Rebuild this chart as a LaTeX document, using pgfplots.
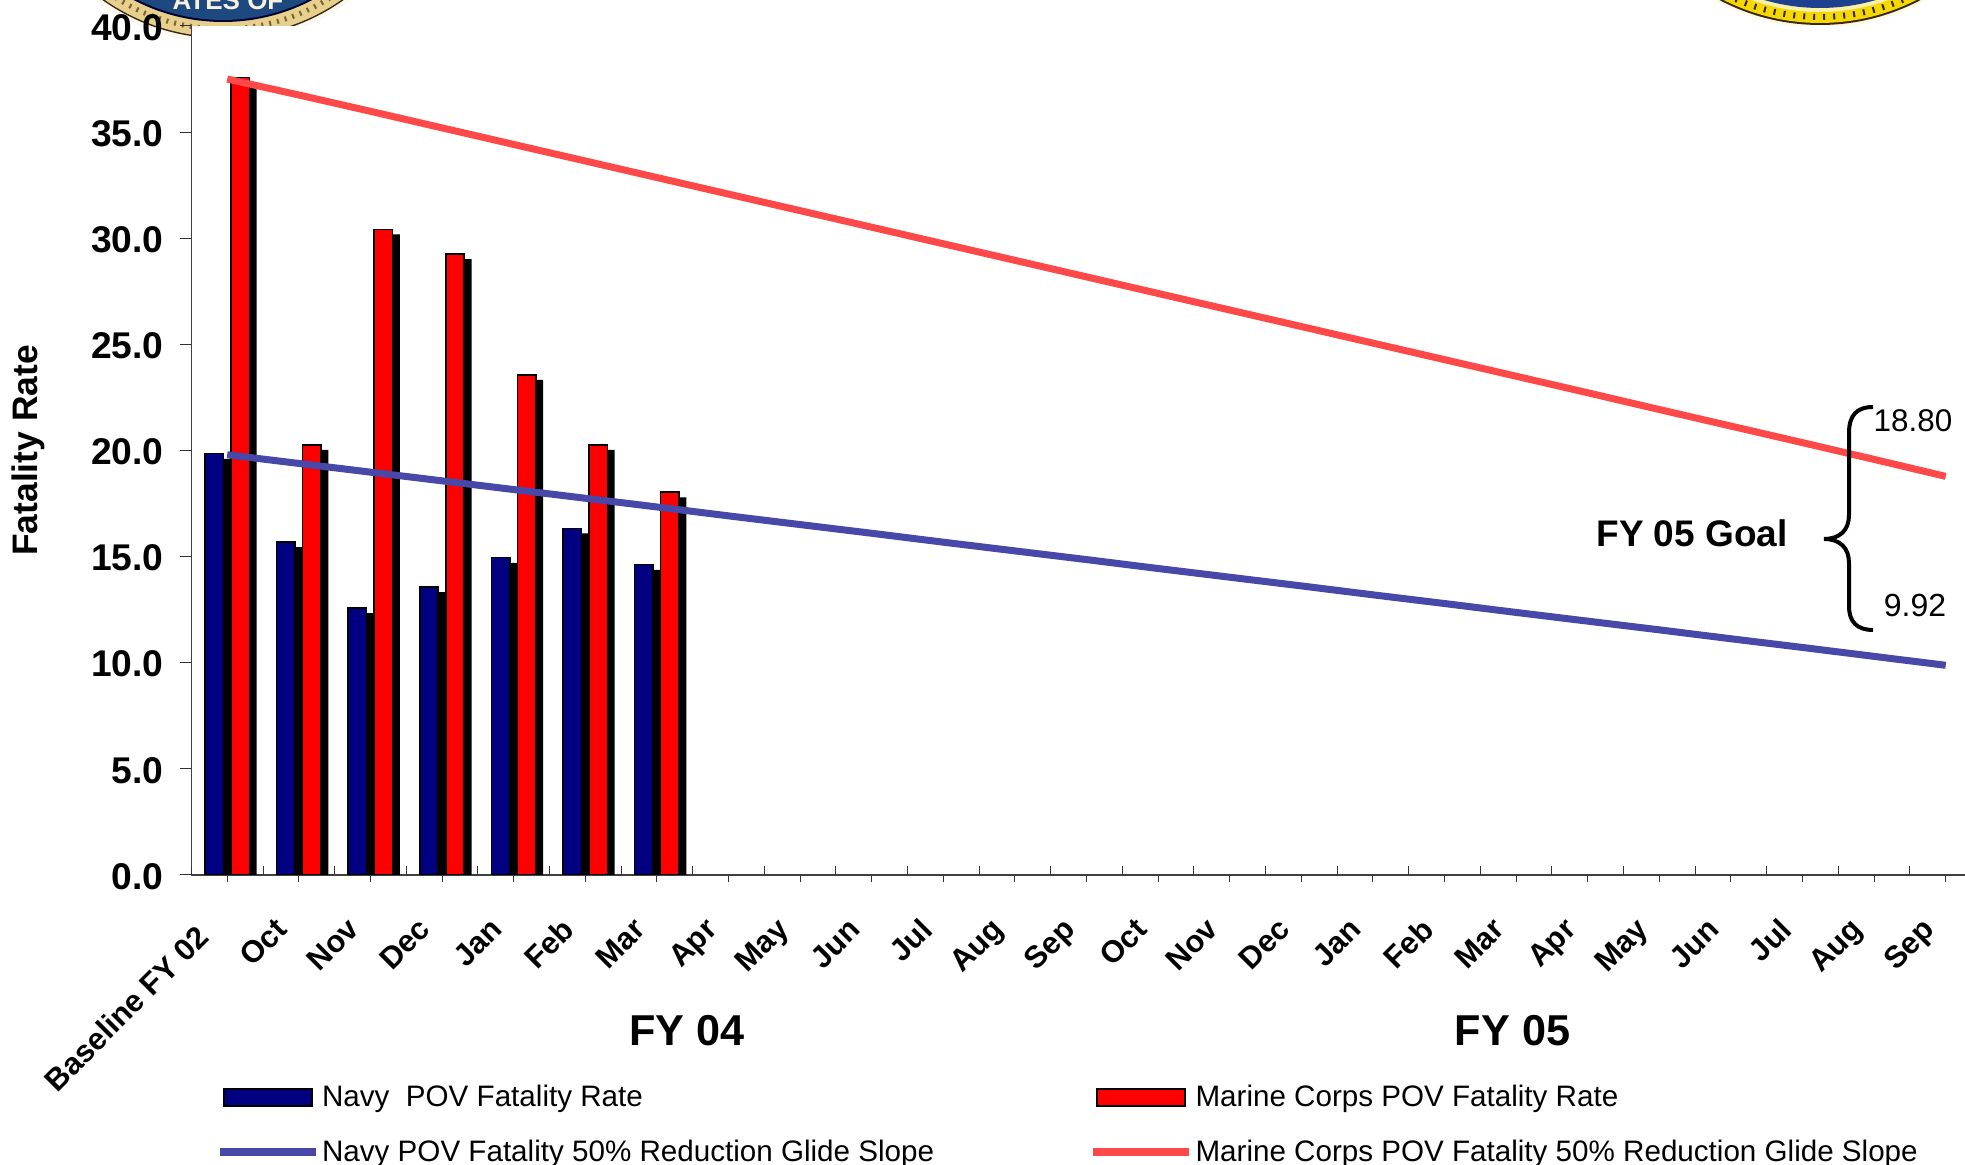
\documentclass[border=0pt]{standalone}
\usepackage{fontspec}
\setmainfont{Liberation Sans}
\usepackage{pgfplots}
\usepackage{pgfplotstable}
\pgfplotsset{compat=1.18}

\definecolor{navybar}{HTML}{000080}
\definecolor{marinebar}{HTML}{FF0000}
\definecolor{navyline}{HTML}{4848A8}
\definecolor{marineline}{HTML}{FF4848}
\definecolor{sealblueL}{HTML}{1E4880}
\definecolor{sealblueR}{HTML}{1F3F8F}
\definecolor{ropeL}{HTML}{E6D08C}
\definecolor{ropeR}{HTML}{F5D800}

% idx, monthly rates, glide slopes
\pgfplotstableread{
idx navy  marine
0   19.85 37.58
1   15.69 20.27
2   12.58 30.42
3   13.57 29.26
4   14.95 23.57
5   16.33 20.27
6   14.62 18.03
}\ratetable

\pgfplotstableread{
idx navy  marine
0   19.80 37.50
1   19.39 36.75
2   18.98 35.98
3   18.57 35.20
4   18.16 34.42
5   17.75 33.64
6   17.34 32.86
7   16.92 32.08
8   16.51 31.30
9   16.10 30.52
10  15.68 29.74
11  15.27 28.96
12  14.86 28.18
13  14.44 27.40
14  14.03 26.62
15  13.62 25.84
16  13.20 25.06
17  12.79 24.28
18  12.37 23.50
19  11.96 22.72
20  11.55 21.93
21  11.13 21.15
22  10.72 20.37
23  10.30 19.58
24  9.88  18.78
}\slopetable

\begin{document}
\begin{tikzpicture}
% the two seals cropped at the top edge, pixel coordinates
\begin{scope}[x=0.5pt,y=-0.5pt,shift={(0pt,582.5pt)}]
  \fill[ropeL!15!white] (223,-170) circle (213);
  \fill[black!70!brown] (223,-170) circle (208.5);
  \fill[ropeL] (223,-170) circle (207);
  \draw[black!60!brown!70!ropeL,line width=2.5pt,dash pattern=on 1pt off 3pt] (223,-170) circle (199);
  \fill[black!80!blue] (223,-170) circle (192);
  \fill[sealblueL] (223,-170) circle (190);
  \node[text=ropeL!30!white,font=\fontsize{13}{13}\selectfont\bfseries,inner sep=0pt] at (228,1) {ATES OF};
  \fill[ropeR!10!white] (1820,-190) circle (218);
  \fill[black!70!brown] (1820,-190) circle (215);
  \fill[ropeR] (1820,-190) circle (213);
  \draw[black!70!brown,line width=3pt,dash pattern=on 1pt off 4pt] (1820,-190) circle (207);
  \fill[ropeR!35!white] (1820,-190) circle (202);
  \fill[sealblueR] (1820,-190) circle (198);
\end{scope}

\begin{axis}[
    at={(95.7pt,145pt)},
    scale only axis,
    width=886.8pt, height=424.5pt,
    xmin=-0.5, xmax=24.27,
    ymin=0, ymax=40,
    axis background/.style={fill=white},
    axis x line*=bottom,
    axis y line*=left,
    axis line style={-,line width=0.6pt,black!75},
    tick style={line width=0.5pt,black!80},
    tick align=outside,
    tickwidth=3.75pt,
    xtick={0,...,24},
    xticklabels={Baseline FY 02\hspace*{5pt},Oct,Nov,Dec,Jan,Feb,Mar,Apr,May,Jun,Jul,Aug,Sep,Oct,Nov,Dec,Jan,Feb,Mar,Apr,May,Jun,Jul,Aug,Sep},
    xticklabel style={rotate=45,anchor=north east,font=\fontsize{15.4}{16}\selectfont\bfseries,inner sep=0pt,xshift=-20.6pt,yshift=-3pt},
    extra x ticks={-0.5,0.5,...,23.5},
    extra x tick labels={},
    extra x tick style={tick align=inside,major tick length=4.5pt},
    ytick={0,5,...,40},
    extra y ticks={0,5,...,40},
    extra y tick labels={},
    extra y tick style={tick align=outside,major tick length=5.5pt},
    yticklabel style={font=\fontsize{18.6}{19}\selectfont\bfseries,/pgf/number format/fixed,/pgf/number format/fixed zerofill,/pgf/number format/precision=1,/pgf/number format/assume math mode=true,inner sep=0pt,xshift=-10pt,yshift=-0.7pt},
    ylabel={Fatality Rate},
    ylabel style={at={(axis description cs:-0.0919,0.5)},anchor=center,font=\fontsize{17.7}{18}\selectfont\bfseries},
    legend columns=2,
    legend cell align=left,
    legend style={at={(axis description cs:0.0137,-0.2424)},anchor=north west,draw=none,fill=none,
      font=\fontsize{14.8}{15}\selectfont,inner sep=0pt,row sep=11.1pt,
      nodes={inner xsep=1.4pt},
      /tikz/column 2/.style={column sep=76.3pt}},
  ]
% drop shadows of the bars
\addplot[ybar,forget plot,fill=black,draw=none,bar width=10pt,bar shift=-3.25pt] table[x=idx,y expr=\thisrow{navy}-0.24] {\ratetable};
\addplot[ybar,forget plot,fill=black,draw=none,bar width=10pt,bar shift=9.75pt] table[x=idx,y expr=\thisrow{marine}-0.24] {\ratetable};

\addplot[ybar,fill=navybar,draw=black,line width=0.8pt,bar width=9.25pt,bar shift=-6.5pt,
  legend image code/.code={\draw[fill=navybar,draw=black,line width=0.9pt] (1.5pt,-4.25pt) rectangle (45.5pt,4.25pt);}]
  table[x=idx,y=navy] {\ratetable};
\addlegendentry{Navy\ \ POV Fatality Rate}
\addplot[ybar,fill=marinebar,draw=black,line width=0.8pt,bar width=9.25pt,bar shift=6.5pt,
  legend image code/.code={\draw[fill=marinebar,draw=black,line width=0.9pt] (1.5pt,-4.25pt) rectangle (45.5pt,4.25pt);}]
  table[x=idx,y=marine] {\ratetable};
\addlegendentry{Marine Corps POV Fatality Rate}

\addplot[navyline,line width=3.5pt,line cap=butt,
  legend image code/.code={\draw[navyline,line width=3.6pt] (-0.5pt,0pt) -- (47.5pt,0pt);}]
  table[x=idx,y=navy] {\slopetable};
\addlegendentry{Navy POV Fatality 50\% Reduction Glide Slope}
\addplot[marineline,line width=3.5pt,line cap=butt,
  legend image code/.code={\draw[marineline,line width=3.6pt] (-0.5pt,0pt) -- (47.5pt,0pt);}]
  table[x=idx,y=marine] {\slopetable};
\addlegendentry{Marine Corps POV Fatality 50\% Reduction Glide Slope}
\end{axis}

% annotations, pixel coordinates
\begin{scope}[x=0.5pt,y=-0.5pt,shift={(0pt,582.5pt)}]
  \draw[black,line width=2pt] (1873,407) .. controls (1857,407) and (1849,415) .. (1849,433)
     -- (1849,515) .. controls (1849,530) and (1840,539) .. (1824,539)
     .. controls (1840,539) and (1849,548) .. (1849,563)
     -- (1849,606) .. controls (1849,622) and (1857,630) .. (1873,630);
  \node[font=\fontsize{15.7}{16}\selectfont,anchor=center,inner sep=0pt] at (1913,421) {18.80};
  \node[font=\fontsize{16}{16}\selectfont,anchor=center,inner sep=0pt] at (1915,605) {9.92};
  \node[font=\fontsize{18.5}{19}\selectfont\bfseries,anchor=center,inner sep=0pt] at (1692,533) {FY 05 Goal};
  \node[font=\fontsize{21.6}{22}\selectfont\bfseries,anchor=center,inner sep=0pt] at (687,1031) {FY 04};
  \node[font=\fontsize{21.6}{22}\selectfont\bfseries,anchor=center,inner sep=0pt] at (1512.6,1031) {FY 05};
\end{scope}

\pgfresetboundingbox
\path[use as bounding box] (0pt,0pt) rectangle (982.5pt,582.5pt);
\end{tikzpicture}
\end{document}
